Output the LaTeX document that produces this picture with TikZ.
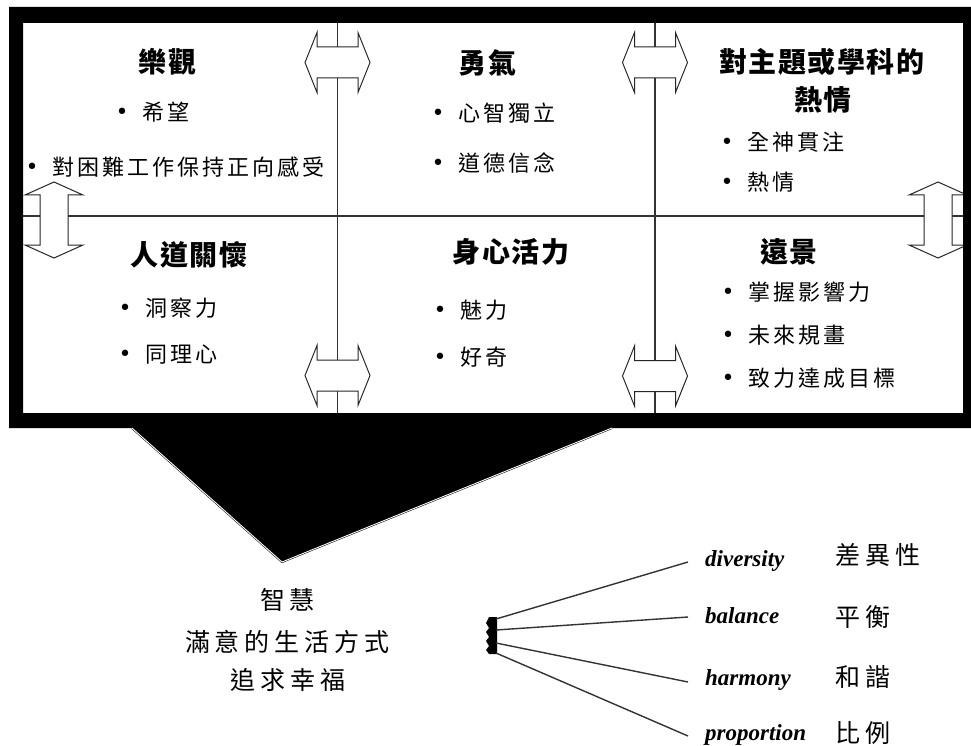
\documentclass[tikz,border=0pt]{standalone}
\usepackage{fontspec}
\newfontfamily\cjk{Noto Sans CJK TC}
\newfontfamily\engserif{Liberation Serif}
\newfontfamily\bulfont{DejaVu Sans}
\newlength\sprowwd
\newcommand\sprow[2]{\setlength\sprowwd{#1}\sprowaux#2\relax}
\def\sprowaux#1{\ifx\relax#1\else\makebox[\sprowwd][c]{#1}\expandafter\sprowaux\fi}
\newcommand\bulmark{\makebox[0pt][c]{\bulfont\raisebox{1pt}{•}}\hspace{18.5pt}}
\newcommand\hdblarrow[2]{\filldraw[dblarrow] ({#1-32.5},{#2}) -- ({#1-20.5},{#2-30}) -- ({#1-20.5},{#2-15.5}) -- ({#1+20.5},{#2-15.5}) -- ({#1+20.5},{#2-30}) -- ({#1+32.5},{#2}) -- ({#1+20.5},{#2+30}) -- ({#1+20.5},{#2+15.5}) -- ({#1-20.5},{#2+15.5}) -- ({#1-20.5},{#2+30}) -- cycle;}
\newcommand\vdblarrow[1]{\filldraw[dblarrow] ({#1},182) -- ({#1+29},195) -- ({#1+14},195) -- ({#1+14},245) -- ({#1+29},245) -- ({#1},258) -- ({#1-29},245) -- ({#1-14},245) -- ({#1-14},195) -- ({#1-29},195) -- cycle;}
\tikzset{
  ttl/.style={inner sep=0pt, font=\cjk\bfseries\fontsize{28}{30}\selectfont},
  bitem/.style={inner sep=0pt, anchor=west, font=\cjk\fontsize{22}{26}\selectfont},
  bottomtxt/.style={inner sep=0pt, font=\cjk\fontsize{25}{28}\selectfont},
  englab/.style={inner sep=0pt, anchor=base west, font=\engserif\bfseries\itshape\fontsize{23}{26}\selectfont},
  cnlab/.style={inner sep=0pt, anchor=west, font=\cjk\fontsize{25}{28}\selectfont},
  gridline/.style={draw=black!80, line width=1.3pt},
  dblarrow/.style={draw=black!85, fill=white, line width=1pt, line join=miter},
  fanline/.style={draw=black!80, line width=1.4pt},
}
\begin{document}
\begin{tikzpicture}[x=1pt,y=-1pt]
\useasboundingbox (0,0) rectangle (971,746);
% white panel
\fill[white] (9,7) rectangle (971,428);
% grid lines
\coordinate (hl) at (23,216); \coordinate (hr) at (963,216);
\coordinate (v1t) at (337.5,23); \coordinate (v1b) at (337.5,413);
\coordinate (v2t) at (655,23); \coordinate (v2b) at (655,413);
\draw[gridline] (hl) -- (hr);
\draw[gridline] (v1t) -- (v1b);
\draw[gridline] (v2t) -- (v2b);
% double arrows
\hdblarrow{337.5}{62.5}
\hdblarrow{655}{62.5}
\hdblarrow{337.5}{375.5}
\hdblarrow{655}{376}
\vdblarrow{54}
\vdblarrow{938}
% frame border
\fill[black, even odd rule] (9,7) rectangle (971,428) (23,23) rectangle (963,413);
% black triangle
\coordinate (tl) at (132,428); \coordinate (ta) at (282,562); \coordinate (tr) at (612,428);
\fill[black] (tl) -- (ta) -- (tr) -- cycle;
\draw[black, line width=0.5pt, double=white, double distance=0.9pt] (tl) -- (ta) -- (tr);
% titles
\node[ttl] (t1) at (167.5,62) {\sprow{29.5pt}{樂觀}};
\node[ttl] (t2) at (487.5,63) {\sprow{29.5pt}{勇氣}};
\node[ttl] (t3a) at (822,62) {\sprow{29.5pt}{對主題或學科的}};
\node[ttl] (t3b) at (823,100) {\sprow{29.5pt}{熱情}};
\node[ttl] (t4) at (189,255) {\sprow{29.5pt}{人道關懷}};
\node[ttl] (t5) at (511,252) {\sprow{29.5pt}{身心活力}};
\node[ttl] (t6) at (789,252) {\sprow{29.5pt}{遠景}};
% bullets
\node[bitem] (b11) at (122,112) {\bulmark\sprow{25pt}{希望}};
\node[bitem] (b12) at (32,167) {\bulmark\sprow{25pt}{對困難工作保持正向感受}};
\node[bitem] (b21) at (438,113) {\bulmark\sprow{25pt}{心智獨立}};
\node[bitem] (b22) at (438,163) {\bulmark\sprow{25pt}{道德信念}};
\node[bitem] (b31) at (727,142) {\bulmark\sprow{25pt}{全神貫注}};
\node[bitem] (b32) at (727,182) {\bulmark\sprow{25pt}{熱情}};
\node[bitem] (b41) at (125,308) {\bulmark\sprow{25pt}{洞察力}};
\node[bitem] (b42) at (125,355) {\bulmark\sprow{25pt}{同理心}};
\node[bitem] (b51) at (440,310) {\bulmark\sprow{25pt}{魅力}};
\node[bitem] (b52) at (440,357) {\bulmark\sprow{25pt}{好奇}};
\node[bitem] (b61) at (728,292) {\bulmark\sprow{25pt}{掌握影響力}};
\node[bitem] (b62) at (728,335) {\bulmark\sprow{25pt}{未來規畫}};
\node[bitem] (b63) at (728,378) {\bulmark\sprow{25pt}{致力達成目標}};
% bottom text
\node[bottomtxt] (w1) at (287.5,600) {\sprow{30pt}{智慧}};
\node[bottomtxt] (w2) at (287.5,642) {\sprow{30pt}{滿意的生活方式}};
\node[bottomtxt] (w3) at (288,680) {\sprow{30pt}{追求幸福}};
% fan
\fill[black] (489,617) -- (497,617) -- (497,654) -- (489,654) -- (486,650) -- (489,646) -- (486,641) -- (489,637) -- (486,632) -- (489,628) -- (486,623) -- cycle;
\coordinate (f1s) at (496,619); \coordinate (f1e) at (688,562);
\coordinate (f2s) at (496,630); \coordinate (f2e) at (688,617);
\coordinate (f3s) at (496,643); \coordinate (f3e) at (688,682);
\coordinate (f4s) at (496,653); \coordinate (f4e) at (688,736);
\draw[fanline] (f1s) -- (f1e);
\draw[fanline] (f2s) -- (f2e);
\draw[fanline] (f3s) -- (f3e);
\draw[fanline] (f4s) -- (f4e);
\node[englab] (e1) at (705,566) {diversity};
\node[englab] (e2) at (705,623) {balance};
\node[englab] (e3) at (705,685) {harmony};
\node[englab] (e4) at (705,740) {proportion};
\node[cnlab] (c1) at (832.5,555) {\sprow{30pt}{差異性}};
\node[cnlab] (c2) at (832.5,617) {\sprow{30pt}{平衡}};
\node[cnlab] (c3) at (832.5,677) {\sprow{30pt}{和諧}};
\node[cnlab] (c4) at (832.5,733) {\sprow{30pt}{比例}};
\end{tikzpicture}
\end{document}
